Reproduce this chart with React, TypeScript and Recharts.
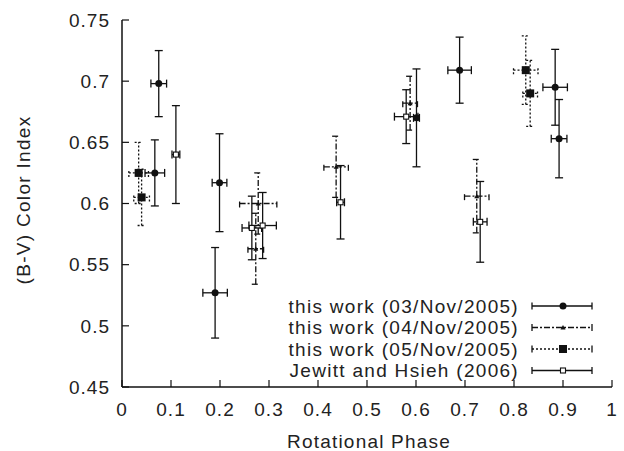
import { ScatterChart, Scatter, XAxis, YAxis, ErrorBar, Legend } from 'recharts';

// 03/Nov/2005
const nov03Phase = [0.067, 0.075, 0.19, 0.199, 0.601, 0.689, 0.884, 0.892];
const nov03Color = [0.625, 0.698, 0.527, 0.617, 0.67, 0.709, 0.695, 0.653];
const nov03PhaseErr = [0.02, 0.016, 0.025, 0.015, 0.006, 0.024, 0.025, 0.016];
const nov03ColorErr = [0.027, 0.027, 0.037, 0.04, 0.04, 0.027, 0.031, 0.032];

// 04/Nov/2005
const nov04Phase = [0.278, 0.273, 0.437, 0.588, 0.724];
const nov04Color = [0.6, 0.563, 0.63, 0.682, 0.606];
const nov04PhaseErr = [0.038, 0.016, 0.025, 0.015, 0.025];
const nov04ColorErr = [0.025, 0.029, 0.025, 0.022, 0.03];

// 05/Nov/2005
const nov05Phase = [0.034, 0.04, 0.824, 0.833];
const nov05Color = [0.625, 0.605, 0.709, 0.69];
const nov05PhaseErr = [0.02, 0.016, 0.025, 0.015];
const nov05ColorErr = [0.025, 0.023, 0.028, 0.027];

// Jewitt and Hsieh (2006)
const jhPhase = [0.11, 0.265, 0.287, 0.446, 0.58, 0.731];
const jhColor = [0.64, 0.58, 0.582, 0.601, 0.671, 0.585];
const jhPhaseErr = [0.008, 0.02, 0.028, 0.008, 0.024, 0.014];
const jhColorErr = [0.04, 0.026, 0.027, 0.03, 0.022, 0.033];

const xTicks = [0, 0.1, 0.2, 0.3, 0.4, 0.5, 0.6, 0.7, 0.8, 0.9, 1];
const yTicks = [0.45, 0.5, 0.55, 0.6, 0.65, 0.7, 0.75];

const legendLabels = [
  'this work (03/Nov/2005)',
  'this work (04/Nov/2005)',
  'this work (05/Nov/2005)',
  'Jewitt and Hsieh (2006)',
];

const toRows = (p: number[], c: number[], pe: number[], ce: number[]) =>
  p.map((x, i) => ({ x, y: c[i], ex: pe[i], ey: ce[i] }));

const ink = '#111';
const font = '"Liberation Sans", Arial, sans-serif';
const tickStyle = { fill: '#222', fontSize: 19, fontFamily: font, letterSpacing: 1 };

const dashes = ['0', '6 2 2 2', '2 2', '0'];

const Dot = (p: any) => <circle cx={p.cx} cy={p.cy} r={3.5} fill={ink} />;
const Tri = (p: any) => (
  <path d={`M${p.cx},${p.cy - 2.5} L${p.cx + 2.5},${p.cy + 2} L${p.cx - 2.5},${p.cy + 2} Z`} fill={ink} />
);
const Sq = (p: any) => <rect x={p.cx - 4} y={p.cy - 4} width={8} height={8} fill={ink} />;
const OpenSq = (p: any) => (
  <rect x={p.cx - 2.5} y={p.cy - 2.5} width={5} height={5} fill="#fff" stroke={ink} strokeWidth={1.1} />
);

const markers = [Dot, Tri, Sq, OpenSq];

const LegendBox = () => (
  <svg width={340} height={90} style={{ display: 'block' }}>
    {legendLabels.map((label, i) => {
      const y = 14 + i * 21.5;
      const M = markers[i];
      return (
        <g key={label}>
          <text x={249} y={y} textAnchor="end" dominantBaseline="central" fontSize={19} fontFamily={font} letterSpacing={1.3} fill="#222">
            {label}
          </text>
          <line x1={262} x2={322} y1={y} y2={y} stroke={ink} strokeWidth={1.3} strokeDasharray={dashes[i]} />
          <line x1={262} x2={262} y1={y - 3.5} y2={y + 3.5} stroke={ink} strokeWidth={1.3} />
          <line x1={322} x2={322} y1={y - 3.5} y2={y + 3.5} stroke={ink} strokeWidth={1.3} />
          <M cx={293} cy={y} />
        </g>
      );
    })}
  </svg>
);

const series = [
  { name: legendLabels[0], data: toRows(nov03Phase, nov03Color, nov03PhaseErr, nov03ColorErr), shape: Dot, dash: dashes[0] },
  { name: legendLabels[1], data: toRows(nov04Phase, nov04Color, nov04PhaseErr, nov04ColorErr), shape: Tri, dash: dashes[1] },
  { name: legendLabels[2], data: toRows(nov05Phase, nov05Color, nov05PhaseErr, nov05ColorErr), shape: Sq, dash: dashes[2] },
  { name: legendLabels[3], data: toRows(jhPhase, jhColor, jhPhaseErr, jhColorErr), shape: OpenSq, dash: dashes[3] },
];

export default function App() {
  return (
    <div style={{ position: 'fixed', left: 0, top: 0, width: 624, height: 451, background: '#fff' }}>
      <ScatterChart width={624} height={451} margin={{ top: 20, right: 12, bottom: 0, left: 52 }}>
        <XAxis
          type="number"
          dataKey="x"
          domain={[0, 1]}
          ticks={xTicks}
          height={64}
          tickSize={-7}
          tickMargin={23}
          tick={tickStyle}
          axisLine={{ stroke: ink, strokeWidth: 1.5 }}
          tickLine={{ stroke: ink, strokeWidth: 1.2 }}
          label={{
            content: () => (
              <text x={369} y={448} textAnchor="middle" fontSize={19} fontFamily={font} letterSpacing={1.2} fill="#222">
                Rotational Phase
              </text>
            ),
          }}
        />
        <XAxis
          xAxisId="top"
          orientation="top"
          type="number"
          dataKey="x"
          domain={[0, 1]}
          ticks={xTicks}
          height={0}
          tickSize={-7}
          tick={false}
          axisLine={{ stroke: ink, strokeWidth: 1.5 }}
          tickLine={{ stroke: ink, strokeWidth: 1.2 }}
        />
        <YAxis
          type="number"
          dataKey="y"
          domain={[0.45, 0.75]}
          ticks={yTicks}
          width={70}
          tickSize={-7}
          tickMargin={19}
          tick={tickStyle}
          axisLine={{ stroke: ink, strokeWidth: 1.5 }}
          tickLine={{ stroke: ink, strokeWidth: 1.2 }}
          label={{
            content: () => (
              <text
                x={23}
                y={200}
                transform="rotate(-90 23 200)"
                textAnchor="middle"
                dominantBaseline="central"
                fontSize={19}
                fontFamily={font}
                letterSpacing={1.3}
                fill="#222"
              >
                (B-V) Color Index
              </text>
            ),
          }}
        />
        <YAxis
          yAxisId="right"
          orientation="right"
          type="number"
          dataKey="y"
          domain={[0.45, 0.75]}
          ticks={yTicks}
          width={0}
          tickSize={-7}
          tick={false}
          axisLine={{ stroke: ink, strokeWidth: 1.5 }}
          tickLine={{ stroke: ink, strokeWidth: 1.2 }}
        />
        {series.map((s) => (
          <Scatter key={s.name} name={s.name} data={s.data} shape={s.shape} isAnimationActive={false}>
            <ErrorBar dataKey="ey" direction="y" width={4} stroke={ink} strokeWidth={1.3} strokeDasharray={s.dash} />
            <ErrorBar dataKey="ex" direction="x" width={4} stroke={ink} strokeWidth={1.3} strokeDasharray={s.dash} />
          </Scatter>
        ))}
        <Legend
          layout="horizontal"
          verticalAlign="middle"
          align="center"
          wrapperStyle={{ left: 270, top: 292, width: 340, height: 90 }}
          content={() => <LegendBox />}
        />
      </ScatterChart>
    </div>
  );
}
